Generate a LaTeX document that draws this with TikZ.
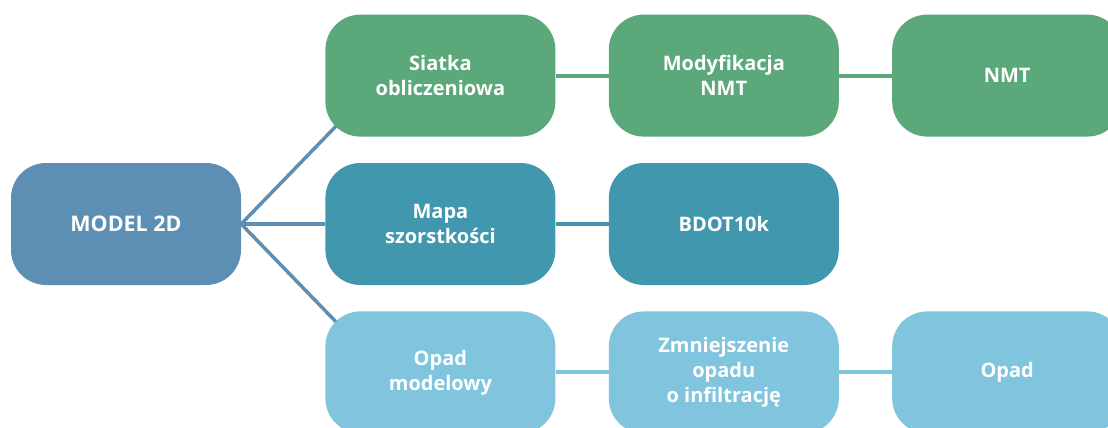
\documentclass[tikz,border=0pt]{standalone}
\usepackage{fontspec}
\setmainfont{Open Sans}
\usetikzlibrary{positioning, backgrounds}
\definecolor{modelblue}{HTML}{5D8FB4}
\definecolor{meshgreen}{HTML}{5BA97A}
\definecolor{roughteal}{HTML}{4197AE}
\definecolor{rainblue}{HTML}{80C4DE}

\begin{document}
\begin{tikzpicture}[x=1pt, y=-1pt,
    box/.style={rounded corners=35pt, minimum width=230pt, minimum height=122pt,
      inner sep=0pt, align=center, text=white,
      font=\fontsize{20}{25}\selectfont\bfseries},
    link/.style={line width=4pt}]
    \useasboundingbox (0,0) rectangle (1108,428);
    % Main node
    \node[box, fill=modelblue, font=\fontsize{21.5}{25}\selectfont\bfseries] (model) at (126,224) {MODEL 2D};
    % Middle column
    \node[box, fill=roughteal, right=84pt of model] (mapa) {Mapa\\szorstkości};
    \node[box, fill=meshgreen, above=26pt of mapa] (siatka) {Siatka\\obliczeniowa};
    \node[box, fill=rainblue, below=26pt of mapa] (opadmod) {Opad\\modelowy};
    % Second column
    \node[box, fill=meshgreen, right=53pt of siatka] (modnmt) {Modyfikacja\\NMT};
    \node[box, fill=roughteal, right=53pt of mapa] (bdot) {BDOT10k};
    \node[box, fill=rainblue, right=53pt of opadmod] (zmniejsz) {Zmniejszenie\\opadu\\o infiltrację};
    % Third column
    \node[box, fill=meshgreen, right=53pt of modnmt] (nmt) {NMT};
    \node[box, fill=rainblue, right=53pt of zmniejsz] (opad) {Opad};
    % Connectors (behind the boxes)
    \begin{scope}[on background layer]
      \draw[link, modelblue, line width=3.5pt] (model.east) -- ([shift={(16,-16)}]siatka.south west);
      \draw[link, modelblue, line width=3.5pt] (model.east) -- (mapa.west);
      \draw[link, modelblue, line width=3.5pt] (model.east) -- ([shift={(16,16)}]opadmod.north west);
      \draw[link, meshgreen] (siatka) -- (modnmt);
      \draw[link, meshgreen] (modnmt) -- (nmt);
      \draw[link, roughteal] (mapa) -- (bdot);
      \draw[link, rainblue] (opadmod) -- (zmniejsz);
      \draw[link, rainblue] (zmniejsz) -- (opad);
    \end{scope}
  \end{tikzpicture}
\end{document}
